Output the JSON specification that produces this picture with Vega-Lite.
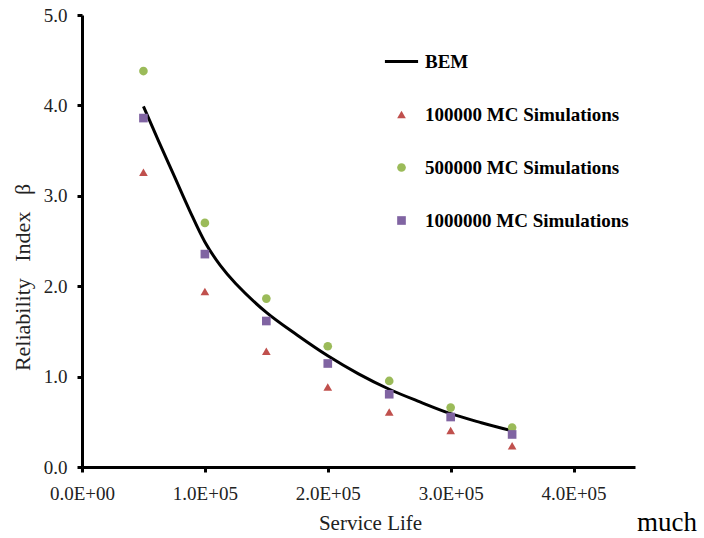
{
  "$schema": "https://vega.github.io/schema/vega-lite/v6.json",
  "autosize": {"type": "none"},
  "padding": {"left": 82, "top": 15, "right": 69, "bottom": 71},
  "width": 553,
  "height": 452,
  "background": "white",
  "config": {
    "view": {"stroke": null},
    "font": "Liberation Serif"
  },
  "title": {
    "text": "much",
    "orient": "bottom",
    "anchor": "end",
    "align": "left",
    "font": "Liberation Serif",
    "fontSize": 27,
    "fontWeight": "normal",
    "color": "black",
    "dx": 2,
    "dy": -27
  },
  "datasets": {
    "bem": [
      {"life": 50000, "beta": 3.99},
      {"life": 62500, "beta": 3.6},
      {"life": 75000, "beta": 3.22},
      {"life": 87500, "beta": 2.84},
      {"life": 100000, "beta": 2.49},
      {"life": 112500, "beta": 2.23},
      {"life": 125000, "beta": 2.03},
      {"life": 150000, "beta": 1.71},
      {"life": 175000, "beta": 1.46},
      {"life": 200000, "beta": 1.23},
      {"life": 225000, "beta": 1.03},
      {"life": 250000, "beta": 0.86},
      {"life": 275000, "beta": 0.72},
      {"life": 300000, "beta": 0.59},
      {"life": 325000, "beta": 0.49},
      {"life": 350000, "beta": 0.40}
    ],
    "mc": [
      {"series": "100000 MC Simulations", "life": 50000, "beta": 3.26},
      {"series": "100000 MC Simulations", "life": 100000, "beta": 1.94},
      {"series": "100000 MC Simulations", "life": 150000, "beta": 1.28},
      {"series": "100000 MC Simulations", "life": 200000, "beta": 0.885},
      {"series": "100000 MC Simulations", "life": 250000, "beta": 0.608},
      {"series": "100000 MC Simulations", "life": 300000, "beta": 0.405},
      {"series": "100000 MC Simulations", "life": 350000, "beta": 0.235},
      {"series": "500000 MC Simulations", "life": 50000, "beta": 4.38},
      {"series": "500000 MC Simulations", "life": 100000, "beta": 2.70},
      {"series": "500000 MC Simulations", "life": 150000, "beta": 1.863},
      {"series": "500000 MC Simulations", "life": 200000, "beta": 1.336},
      {"series": "500000 MC Simulations", "life": 250000, "beta": 0.952},
      {"series": "500000 MC Simulations", "life": 300000, "beta": 0.657},
      {"series": "500000 MC Simulations", "life": 350000, "beta": 0.436},
      {"series": "1000000 MC Simulations", "life": 50000, "beta": 3.86},
      {"series": "1000000 MC Simulations", "life": 100000, "beta": 2.355},
      {"series": "1000000 MC Simulations", "life": 150000, "beta": 1.615},
      {"series": "1000000 MC Simulations", "life": 200000, "beta": 1.145},
      {"series": "1000000 MC Simulations", "life": 250000, "beta": 0.805},
      {"series": "1000000 MC Simulations", "life": 300000, "beta": 0.553},
      {"series": "1000000 MC Simulations", "life": 350000, "beta": 0.36}
    ]
  },
  "layer": [
    {
      "data": {"name": "bem"},
      "mark": {"type": "line", "color": "black", "strokeWidth": 3, "interpolate": "catmull-rom"},
      "encoding": {
        "x": {
          "field": "life", "type": "quantitative",
          "scale": {"domain": [0, 450000], "nice": false, "zero": true},
          "axis": {
            "title": "Service Life",
            "values": [0, 100000, 200000, 300000, 400000],
            "labelExpr": "datum.value == 0 ? '0.0E+00' : format(datum.value / 100000, '.1f') + 'E+05'",
            "labelFlush": false,
            "domainColor": "black", "domainWidth": 3,
            "tickColor": "black", "tickWidth": 3, "tickSize": 5,
            "labelFont": "Liberation Serif", "labelFontSize": 19, "labelColor": "#222222",
            "labelPadding": 12,
            "titleFont": "Liberation Serif", "titleFontSize": 21, "titleFontWeight": "normal", "titleColor": "#222222",
            "titleX": 288, "titleY": 62, "titleBaseline": "alphabetic",
            "grid": false
          }
        },
        "y": {
          "field": "beta", "type": "quantitative",
          "scale": {"domain": [0, 5], "nice": false},
          "axis": {
            "title": "Reliability\u00a0\u00a0 Index\u00a0\u00a0 β",
            "values": [0, 1, 2, 3, 4, 5],
            "format": ".1f",
            "labelFlush": false,
            "domainColor": "black", "domainWidth": 3,
            "tickColor": "black", "tickWidth": 3, "tickSize": 5,
            "labelFont": "Liberation Serif", "labelFontSize": 19, "labelColor": "#222222",
            "labelPadding": 10,
            "titleFont": "Liberation Serif", "titleFontSize": 22, "titleFontWeight": "normal", "titleColor": "#222222",
            "titleX": -60, "titleY": 262, "titleBaseline": "middle", "titleAngle": -90,
            "grid": false
          }
        }
      }
    },
    {
      "data": {"name": "mc"},
      "mark": {"type": "point", "filled": true, "opacity": 1, "size": 75},
      "encoding": {
        "x": {"field": "life", "type": "quantitative"},
        "y": {"field": "beta", "type": "quantitative"},
        "color": {
          "field": "series", "type": "nominal",
          "scale": {
            "domain": ["BEM", "100000 MC Simulations", "500000 MC Simulations", "1000000 MC Simulations"],
            "range": ["black", "#c0504d", "#9bbb59", "#8064a2"]
          },
          "legend": {
            "title": null,
            "orient": "none",
            "legendX": 310,
            "legendY": 37,
            "padding": 0,
            "rowPadding": 33,
            "symbolSize": 75,
            "symbolOpacity": 1,
            "labelFont": "Liberation Serif",
            "labelFontSize": 19,
            "labelFontWeight": "bold",
            "labelColor": "black",
            "labelOffset": 14,
            "labelLimit": 400,
            "encode": {
              "symbols": {
                "update": {
                  "stroke": {"scale": "color", "field": "value"},
                  "strokeWidth": {"signal": "datum.value === 'BEM' ? 3 : 0"},
                  "size": {"signal": "datum.value === 'BEM' ? 1100 : 75"}
                }
              }
            }
          }
        },
        "shape": {
          "field": "series", "type": "nominal",
          "scale": {
            "domain": ["BEM", "100000 MC Simulations", "500000 MC Simulations", "1000000 MC Simulations"],
            "range": ["stroke", "triangle-up", "circle", "square"]
          }
        }
      }
    }
  ]
}
